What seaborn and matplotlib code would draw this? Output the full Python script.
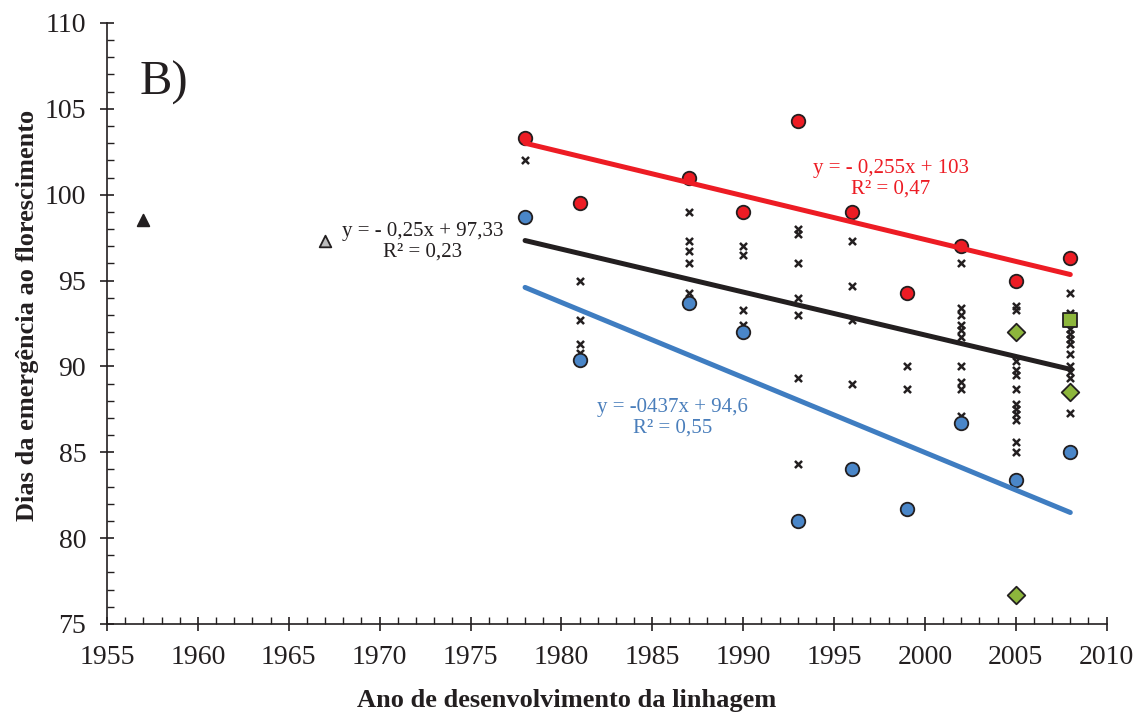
import matplotlib
matplotlib.use("Agg")
import numpy as np
import pandas as pd
import matplotlib.pyplot as plt
import seaborn as sns
from matplotlib.ticker import MultipleLocator

# Elite lines: earliest and latest release years
check_years = [1978, 1981, 1987, 1990, 1993, 1996, 1999, 2002, 2005, 2008]
late_days = [103.3, 99.5, 101.0, 99.0, 104.3, 99.0, 94.3, 97.0, 95.0, 96.3]
early_days = [98.7, 90.4, 93.7, 92.0, 81.0, 84.0, 81.7, 86.7, 83.4, 85.0]

# All other lines evaluated per release year
other_years = ([1978]
               + [1981] * 4
               + [1987] * 5
               + [1990] * 4
               + [1993] * 7
               + [1996] * 4
               + [1999] * 2
               + [2002] * 10
               + [2005] * 12
               + [2008] * 11)
other_days = ([102.0]
              + [95.0, 92.7, 91.3, 90.8]
              + [99.0, 97.3, 96.7, 96.0, 94.3]
              + [97.0, 96.5, 93.3, 92.4]
              + [98.0, 97.7, 96.0, 94.0, 93.0, 89.3, 84.3]
              + [97.3, 94.7, 92.7, 89.0]
              + [90.0, 88.7]
              + [96.0, 93.4, 93.0, 92.4, 92.1, 91.7, 90.0, 89.1, 88.7, 87.1]
              + [93.5, 93.3, 90.3, 89.8, 89.5, 88.7, 87.8, 87.5, 87.2, 86.9, 85.6, 85.0]
              + [94.3, 93.1, 92.2, 91.9, 91.6, 91.3, 90.7, 90.0, 89.7, 89.3, 87.3])

# Ancestral cultivars
ancestor_years = [1957]
ancestor_days = [98.5]
founder_years = [1967]
founder_days = [97.3]

# Highlighted recent releases
diamond_years = [2005, 2005, 2008]
diamond_days = [92.0, 76.7, 88.5]
square_years = [2008]
square_days = [92.7]

# Fitted trends: intercept and slope per year since 1978
trend_origin = 1978
trend_span = [1978, 2008]
late_fit = (103.0, -0.255)
all_fit = (97.33, -0.25)
early_fit = (94.6, -0.437)

RED = "#ED1C24"
BLUE = "#4A86C8"
BLUE_LINE = "#3F7DC1"
BLUE_TEXT = "#4A7EBB"
GREEN = "#8DB63C"
INK = "#231F20"

sns.set_style("white")
plt.rcParams["font.family"] = ["Liberation Serif", "DejaVu Serif"]

fig = plt.figure(figsize=(11.45, 7.18), dpi=100)
ax = fig.add_axes([0.0935, 0.131, 0.873, 0.837])

edge = dict(edgecolor=INK, linewidth=1.3, zorder=3)

sns.scatterplot(x=other_years, y=other_days, marker="x", color=INK,
                s=26, linewidth=1.8, ax=ax, zorder=2)
sns.scatterplot(x=check_years, y=late_days, marker="o", color=RED, s=95, ax=ax, **edge)
sns.scatterplot(x=check_years, y=early_days, marker="o", color=BLUE, s=95, ax=ax, **edge)
sns.scatterplot(x=diamond_years, y=diamond_days, marker="D", color=GREEN, s=80, ax=ax, **edge)
sns.scatterplot(x=square_years, y=square_days, marker="s", color=GREEN, s=110, ax=ax, **edge)
sns.scatterplot(x=ancestor_years, y=ancestor_days, marker="^", color=INK, s=70, ax=ax, **edge)
sns.scatterplot(x=founder_years, y=founder_days, marker="^", color="#BDBDBD", s=70, ax=ax, **edge)

span = np.array(trend_span, dtype=float)
for (b0, b1), col in [(early_fit, BLUE_LINE), (all_fit, INK), (late_fit, RED)]:
    fit = pd.DataFrame({"ano": span, "dias": b0 + b1 * (span - trend_origin)})
    sns.lineplot(data=fit, x="ano", y="dias", color=col, linewidth=3.6,
                 solid_capstyle="round", ax=ax, zorder=4)

ax.text(1998.14, 100.95, "y = - 0,255x + 103\nR² = 0,47", color=RED, fontsize=15,
        ha="center", va="center", multialignment="center", linespacing=1.1)
ax.text(1972.37, 97.27, "y = - 0,25x + 97,33\nR² = 0,23", color=INK, fontsize=15,
        ha="center", va="center", multialignment="center", linespacing=1.1)
ax.text(1986.12, 87.02, "y = -0437x + 94,6\nR² = 0,55", color=BLUE_TEXT, fontsize=15,
        ha="center", va="center", multialignment="center", linespacing=1.1)
ax.text(1956.8, 106.5, "B)", color=INK, fontsize=35, ha="left", va="center")

ax.set_xlim(1955, 2010)
ax.set_ylim(75, 110)
ax.xaxis.set_major_locator(MultipleLocator(5))
ax.xaxis.set_minor_locator(MultipleLocator(1))
ax.yaxis.set_major_locator(MultipleLocator(5))
ax.yaxis.set_minor_locator(MultipleLocator(1))

for side in ("top", "right"):
    ax.spines[side].set_visible(False)
for side in ("left", "bottom"):
    ax.spines[side].set_color(INK)
    ax.spines[side].set_linewidth(1.2)

ax.tick_params(which="both", bottom=True, left=True, top=False, right=False)
ax.tick_params(which="major", direction="inout", length=10, width=1.2,
               color=INK, labelcolor=INK, labelsize=20, pad=10)
ax.tick_params(which="minor", direction="in", length=5, width=1.0, color=INK)

ax.set_xlabel("Ano de desenvolvimento da linhagem", fontsize=19,
              fontweight="bold", color=INK)
ax.set_ylabel("Dias da emergência ao florescimento", fontsize=19,
              fontweight="bold", color=INK)
ax.xaxis.set_label_coords(0.4597, -0.108)
ax.yaxis.set_label_coords(-0.068, 0.514)

fig.savefig("out.png", dpi=100)
